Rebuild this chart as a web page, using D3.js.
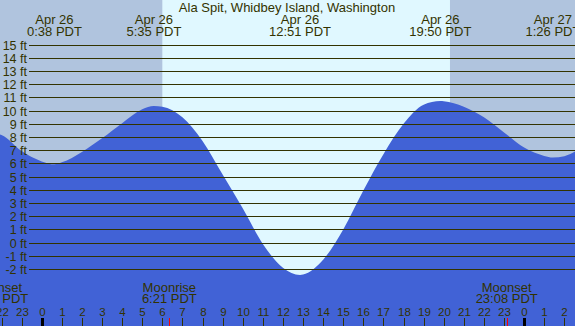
<!DOCTYPE html>
<html><head><meta charset="utf-8">
<script src="https://cdn.jsdelivr.net/npm/d3@7"></script>
<style>html,body{margin:0;padding:0;overflow:hidden;background:#b0c4de}svg{display:block}</style>
</head><body><svg id="c" width="575" height="326"></svg>
<script>
// hours measured from Apr 26 00:00 PDT
const tideHours = [-2.1,-2,-1,0,0.63,1,2,3,4,5,5.58,6,7,8,9,10,11,12,12.85,13,14,15,16,17,18,19,19.83,20,21,22,23,24,25,25.43,26,26.6];
const tideFeet  = [8.2,8.15,6.93,6.15,5.93,6.08,6.87,7.9,9.05,10.1,10.35,10.3,9.5,7.7,5.15,2.6,-0.1,-1.9,-2.45,-2.42,-1.3,1.0,3.95,6.7,9.0,10.45,10.72,10.7,10.3,9.5,8.35,7.2,6.57,6.45,6.55,6.95];
const extremeHours = [0.633,5.583,12.85,19.833,25.433];
const extremeDates = ["Apr 26","Apr 26","Apr 26","Apr 26","Apr 27"];
const extremeTimes = ["0:38 PDT","5:35 PDT","12:51 PDT","19:50 PDT","1:26 PDT"];
const feetTicks = [15,14,13,12,11,10,9,8,7,6,5,4,3,2,1,0,-1,-2];
const hourTicks = d3.range(-2,27);
const moonHours = [-2.217,6.35,23.133];
const moonNames = ["Moonset","Moonrise","Moonset"];
const moonTimes = ["21:47 PDT","6:21 PDT","23:08 PDT"];
const sunrise = 6.0, sunset = 20.31;
const title = "Ala Spit, Whidbey Island, Washington";

const W=575,H=326;
const svg=d3.select("#c");
const x=d3.scaleLinear().domain([-2.075,26.53]).range([0,W]);
const y=d3.scaleLinear().domain([0,15]).range([242.6,44.6]);
const ink="#333300";
const font="Liberation Sans, Arial, sans-serif";
const fs=13;

svg.append("rect").attr("x",0).attr("y",0).attr("width",W).attr("height",H).attr("fill","#b0c4de");
svg.append("rect").attr("x",x(sunrise)).attr("y",0).attr("width",x(sunset)-x(sunrise)).attr("height",H).attr("fill","#e0f8ff");

const pts=tideHours.map((h,i)=>[h,tideFeet[i]]);
const area=d3.area().x(d=>x(d[0])).y0(H).y1(d=>y(d[1])).curve(d3.curveMonotoneX);
svg.append("path").datum(pts).attr("d",area).attr("fill","#4162d6");

// grid lines + labels
const g=svg.append("g");
feetTicks.forEach(f=>{
  const yy=Math.round(y(f))+0.5;
  g.append("line").attr("x1",29).attr("x2",W).attr("y1",yy).attr("y2",yy).attr("stroke",ink).attr("stroke-width",1);
  g.append("text").attr("x",27).attr("y",yy+4.5).attr("text-anchor","end").attr("font-family",font).attr("font-size",12.5).attr("fill",ink).text(f+" ft");
});

// title
svg.append("text").attr("x",287).attr("y",12).attr("text-anchor","middle").attr("font-family",font).attr("font-size",fs).attr("fill",ink).text(title);

// extremes labels
extremeHours.forEach((h,i)=>{
  svg.append("text").attr("x",x(h)).attr("y",23.5).attr("text-anchor","middle").attr("font-family",font).attr("font-size",fs).attr("fill",ink).text(extremeDates[i]);
  svg.append("text").attr("x",x(h)).attr("y",35.5).attr("text-anchor","middle").attr("font-family",font).attr("font-size",fs).attr("fill",ink).text(extremeTimes[i]);
});

// moon labels
moonHours.forEach((h,i)=>{
  svg.append("text").attr("x",x(h)).attr("y",291.5).attr("text-anchor","middle").attr("font-family",font).attr("font-size",fs).attr("fill",ink).text(moonNames[i]);
  svg.append("text").attr("x",x(h)).attr("y",303).attr("text-anchor","middle").attr("font-family",font).attr("font-size",fs).attr("fill",ink).text(moonTimes[i]);
  svg.append("line").attr("x1",Math.round(x(h))+0.5).attr("x2",Math.round(x(h))+0.5).attr("y1",318).attr("y2",H).attr("stroke","#ff0000").attr("stroke-width",1);
});

// hour ticks
hourTicks.forEach(h=>{
  const xx=Math.round(x(h))+0.5;
  const mid=((h%24)+24)%24===0;
  svg.append("line").attr("x1",xx).attr("x2",xx).attr("y1",318).attr("y2",H).attr("stroke",mid?"#000":ink).attr("stroke-width",mid?3:1);
  svg.append("text").attr("x",xx).attr("y",315.5).attr("text-anchor","middle").attr("font-family",font).attr("font-size",11.5).attr("fill",ink).text(((h%24)+24)%24);
});
</script></body></html>
